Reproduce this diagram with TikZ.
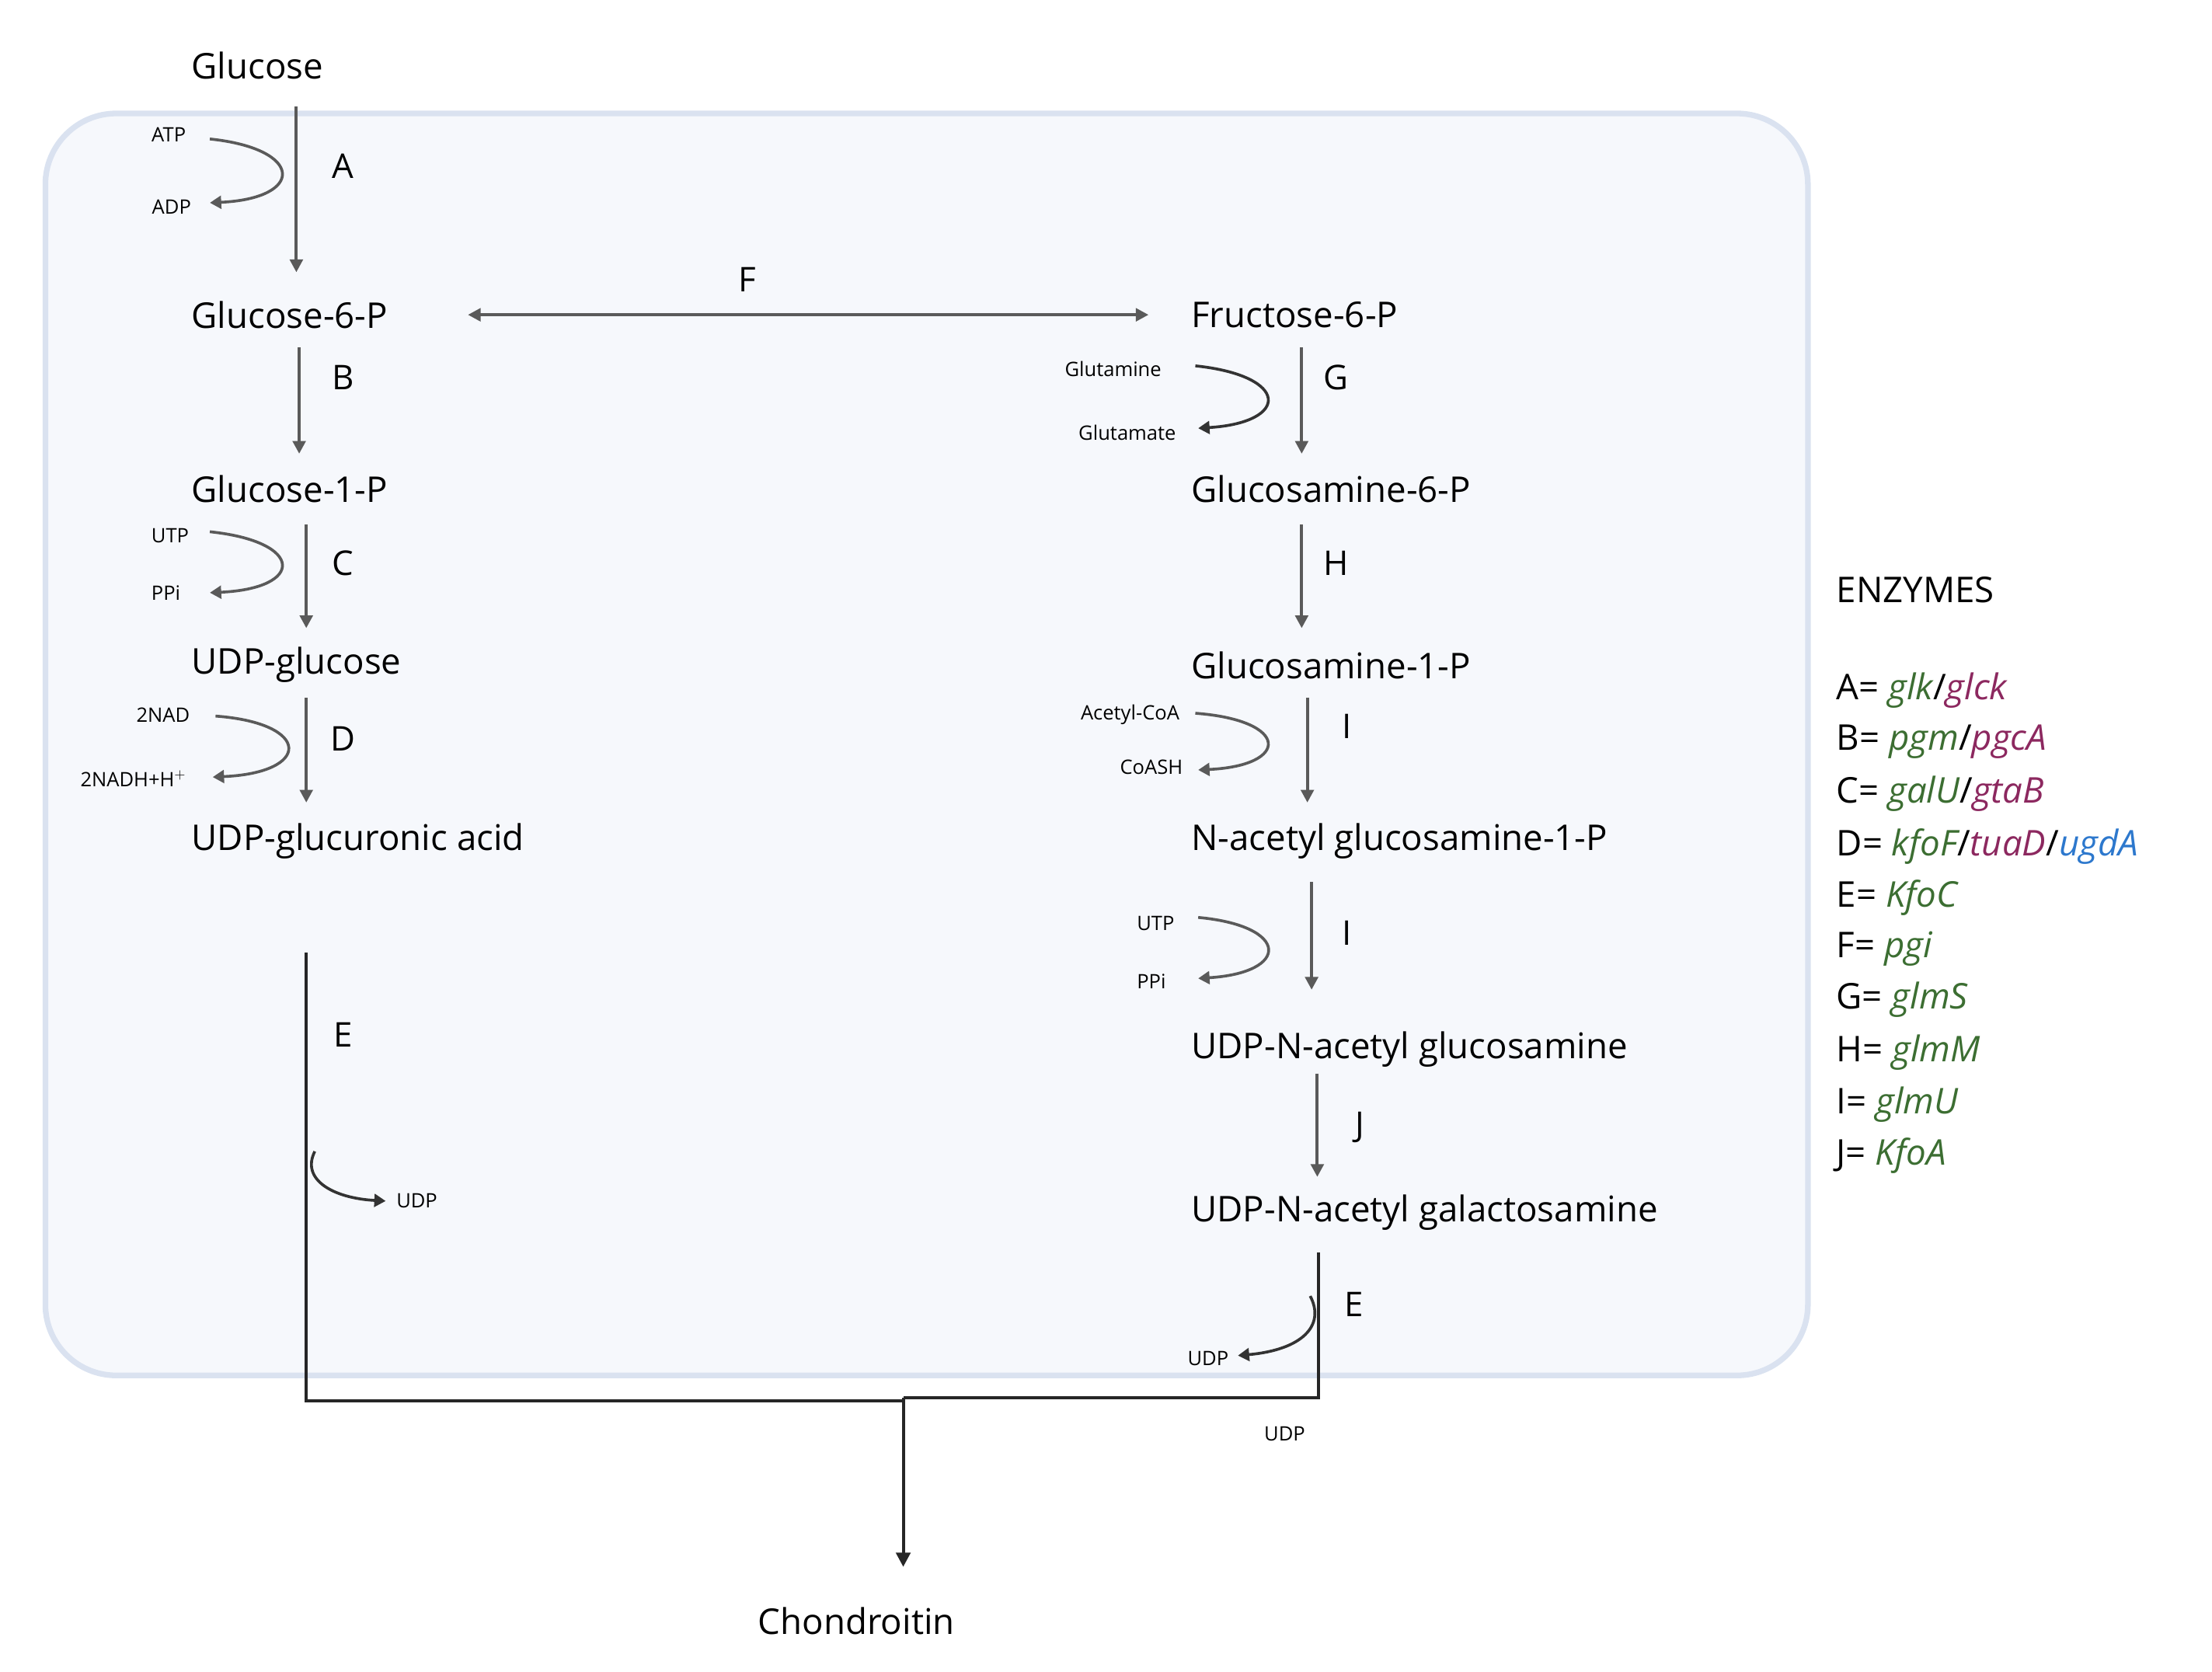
\documentclass[tikz,border=0pt]{standalone}
\usepackage{fontspec}
\setmainfont{Open Sans}
\usetikzlibrary{arrows.meta}
\definecolor{gr}{RGB}{60,110,50}
\definecolor{pu}{RGB}{140,40,95}
\definecolor{bl}{RGB}{45,120,205}
\definecolor{ln}{RGB}{90,90,90}
\definecolor{boxf}{RGB}{246,248,252}
\definecolor{boxd}{RGB}{218,226,240}
\begin{document}
\begin{tikzpicture}[x=1pt,y=-1pt,
  met/.style={anchor=west,inner sep=0pt,font=\fontsize{25}{29}\selectfont},
  lab/.style={inner sep=0pt,font=\fontsize{24}{28}\selectfont},
  sm/.style={inner sep=0pt,font=\fontsize{14}{16}\selectfont},
  arr/.style={ln,line width=2.2pt,-{Triangle[length=9pt,width=9pt]}},
  cur/.style={black!80,line width=2pt,-{Triangle[length=8pt,width=9pt]}},
  ent/.style={anchor=west,inner sep=0pt,font=\fontsize{25}{29}\selectfont}]
\useasboundingbox (0,0) rectangle (1560,1179);
\draw[boxd,fill=boxf,line width=4pt,rounded corners=50pt] (32,80) rectangle (1275,970);
% metabolites
\node[met] (glc) at (135,46) {Glucose};
\node[met] (g6p) at (135,222) {Glucose-6-P};
\node[met] (g1p) at (135,345) {Glucose-1-P};
\node[met] (udpg) at (135,469) {UDP-glucose};
\node[met] (udpga) at (135,593) {UDP-glucuronic acid};
\node[met] (f6p) at (840,222) {Fructose-6-P};
\node[met] (gn6p) at (840,345) {Glucosamine-6-P};
\node[met] (gn1p) at (840,469) {Glucosamine-1-P};
\node[met] (nag) at (840,593) {N-acetyl glucosamine-1-P};
\node[met] (udpnag) at (840,740) {UDP-N-acetyl glucosamine};
\node[met] (udpngal) at (840,855) {UDP-N-acetyl galactosamine};
\node[met,anchor=center] (chon) at (604,1143) {Chondroitin};
% main arrows
\draw[arr] (209,75) -- (209,192);
\draw[ln,line width=2.2pt,{Triangle[length=9pt,width=9pt]}-{Triangle[length=9pt,width=9pt]}] (330,222) -- (810,222);
\draw[arr] (211,245) -- (211,320);
\draw[arr] (216,370) -- (216,443);
\draw[arr] (216,492) -- (216,566);
\draw[arr] (918,245) -- (918,320);
\draw[arr] (918,370) -- (918,443);
\draw[arr] (922,492) -- (922,566);
\draw[arr] (925,622) -- (925,698);
\draw[arr] (929,757) -- (929,830);
% E and join
\draw[black!85,line width=2.2pt] (216,672) -- (216,988) -- (637,988);
\draw[black!85,line width=2.2pt] (930,883) -- (930,986) -- (637,986);
\draw[black!85,line width=2.2pt,-{Triangle[length=10pt,width=10pt]}] (637,986) -- (637,1105);
% labels
\node[lab] (lA) at (242,117) {A};
\node[lab] (lF) at (527,197) {F};
\node[lab] (lB) at (242,266) {B};
\node[lab] (lC) at (242,397) {C};
\node[lab] (lD) at (242,521) {D};
\node[lab] (lE1) at (242,730) {E};
\node[lab] (lG) at (942,266) {G};
\node[lab] (lH) at (942,397) {H};
\node[lab] (lI1) at (950,512) {I};
\node[lab] (lI2) at (950,658) {I};
\node[lab] (lJ) at (959,795) {J};
\node[lab] (lE2) at (955,920) {E};
% cofactors
\node[sm] (atp) at (119,95) {ATP};
\node[sm] (adp) at (121,146) {ADP};
\draw[cur,ln] (148,98) .. controls (215,105) and (215,140) .. (148,143);
\node[sm] (utp1) at (120,378) {UTP};
\node[sm] (ppi1) at (117,418) {PPi};
\draw[cur,ln] (148,375) .. controls (215,382) and (215,415) .. (148,418);
\node[sm] (nad) at (115,504) {2NAD};
\node[sm] (nadh) at (94,549) {2NADH+H$^{+}$};
\draw[cur,ln] (152,505) .. controls (220,510) and (220,545) .. (150,548);
\node[sm] (udpE1) at (294,847) {UDP};
\draw[cur] (222,812) .. controls (212,832) and (235,845) .. (272,847);
\node[sm] (gln) at (785,260) {Glutamine};
\node[sm] (glu) at (795,305) {Glutamate};
\draw[cur] (843,258) .. controls (910,265) and (910,298) .. (845,302);
\node[sm] (acoa) at (797,504) {Acetyl-CoA};
\node[sm] (coash) at (812,541) {CoASH};
\draw[cur,ln] (843,503) .. controls (910,508) and (910,540) .. (845,543);
\node[sm] (utp2) at (815,651) {UTP};
\node[sm] (ppi2) at (812,692) {PPi};
\draw[cur,ln] (845,647) .. controls (910,653) and (910,686) .. (845,690);
\node[sm] (udpE2) at (852,958) {UDP};
\draw[cur] (924,914) .. controls (935,935) and (918,952) .. (873,956);
\node[sm] (udpb) at (906,1011) {UDP};
% legend
\node[ent] (enz) at (1295,416) {ENZYMES};
\node[ent] at (1295,487) {A= \textcolor{gr}{\itshape glk}/\textcolor{pu}{\itshape glck}};
\node[ent] at (1295,523) {B= \textcolor{gr}{\itshape pgm}/\textcolor{pu}{\itshape pgcA}};
\node[ent] at (1295,560) {C= \textcolor{gr}{\itshape galU}/\textcolor{pu}{\itshape gtaB}};
\node[ent] at (1295,597) {D= \textcolor{gr}{\itshape kfoF}/\textcolor{pu}{\itshape tuaD}/\textcolor{bl}{\itshape ugdA}};
\node[ent] at (1295,633) {E= \textcolor{gr}{\itshape KfoC}};
\node[ent] at (1295,669) {F= \textcolor{gr}{\itshape pgi}};
\node[ent] at (1295,705) {G= \textcolor{gr}{\itshape glmS}};
\node[ent] at (1295,742) {H= \textcolor{gr}{\itshape glmM}};
\node[ent] at (1295,779) {I= \textcolor{gr}{\itshape glmU}};
\node[ent] at (1295,815) {J= \textcolor{gr}{\itshape KfoA}};
\end{tikzpicture}
\end{document}
